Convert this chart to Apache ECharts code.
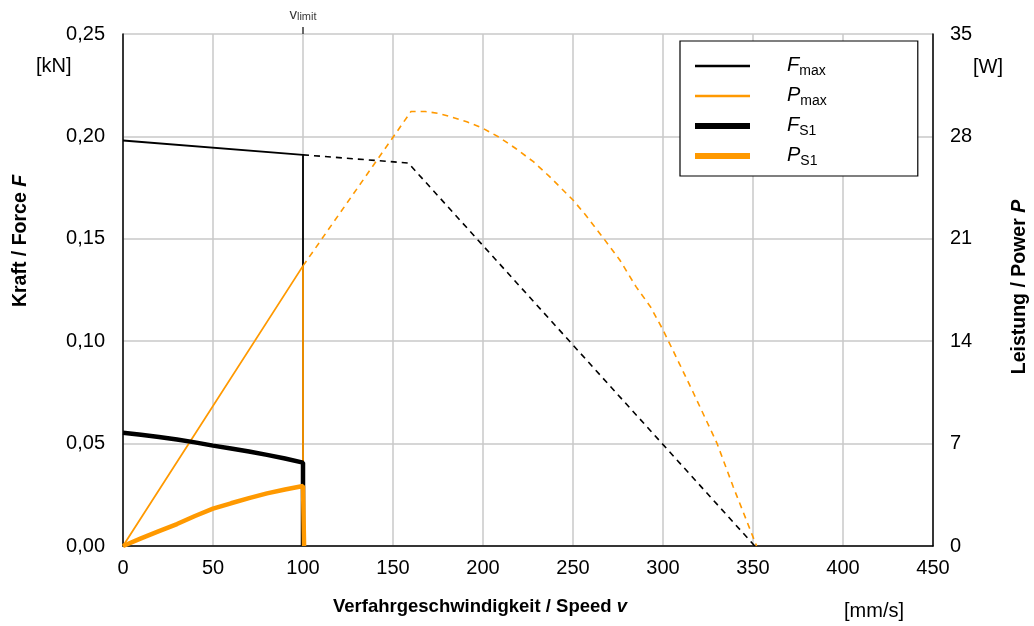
<!DOCTYPE html>
<html>
<head>
<meta charset="utf-8">
<script src="https://cdn.jsdelivr.net/npm/echarts@6/dist/echarts.min.js"></script>
<style>html,body{margin:0;padding:0;background:#fff}#c{width:1034px;height:626px}</style>
</head>
<body>
<div id="c"></div>
<script>
// ---- data (speed in mm/s, force in kN, power in W) ----
var xTicks = [0, 50, 100, 150, 200, 250, 300, 350, 400, 450];
var forceTickLabels = ['0,00', '0,05', '0,10', '0,15', '0,20', '0,25'];
var powerTickLabels = ['0', '7', '14', '21', '28', '35'];
var vLimit = 100;

var fMaxSolid = [[0, 0.198], [100, 0.191], [100, 0]];
var fMaxDashed = [[100, 0.191], [158.5, 0.187], [351, 0]];
var pMaxSolid = [[0, 0], [100, 19.15], [100, 0]];
var pMaxDashed = [[100, 19.15], [160, 29.7], [168, 29.7], [175, 29.58], [182, 29.35], [191, 29.0],
  [200, 28.55], [209, 27.94], [218, 27.19], [228, 26.27], [237, 25.25], [250, 23.65], [257, 22.63],
  [267, 21.03], [276, 19.55], [285, 17.73], [293, 16.36], [300, 14.77], [309, 12.49], [317, 10.44],
  [330, 7.02], [339, 4.05], [352, 0]];
var fS1 = [[0, 0.0553], [10, 0.0543], [20, 0.0532], [30, 0.052], [40, 0.0506], [50, 0.049],
  [60, 0.0476], [70, 0.0461], [80, 0.0445], [90, 0.0427], [100, 0.0407], [100, 0]];
var pS1 = [[0, 0], [10, 0.52], [20, 1.02], [30, 1.5], [40, 2.05], [50, 2.55], [60, 2.92],
  [70, 3.27], [80, 3.6], [90, 3.86], [100, 4.1], [100.6, 0]];

var ORANGE = '#FF9900';
var FONT = '"Liberation Sans", Arial, sans-serif';

var chart = echarts.init(document.getElementById('c'), null, {renderer: 'canvas'});

var legendRich = {
  i: {fontFamily: FONT, fontSize: 20, fontStyle: 'italic', color: '#000', lineHeight: 22, verticalAlign: 'top'},
  s: {fontFamily: FONT, fontSize: 14, color: '#000', lineHeight: 14, padding: [9, 0, 0, 0], verticalAlign: 'top'},
  s2: {fontFamily: FONT, fontSize: 14, color: '#000', lineHeight: 14, padding: [9, 0, 0, 0], verticalAlign: 'top'}
};
var legendText = {
  'Fmax': '{i|F}{s|max}',
  'Pmax': '{i|P}{s|max}',
  'FS1': '{i|F}{s2|S1}',
  'PS1': '{i|P}{s2|S1}'
};

function boldTitle(main, ital, size) {
  return {
    text: '{b|' + main + '}{bi|' + ital + '}', align: 'center', verticalAlign: 'middle',
    rich: {
      b: {fontSize: size, fontWeight: 'bold', fontFamily: FONT, color: '#000'},
      bi: {fontSize: size, fontWeight: 'bold', fontStyle: 'italic', fontFamily: FONT, color: '#000'}
    }
  };
}

var option = {
  animation: false,
  backgroundColor: '#fff',
  textStyle: {fontFamily: FONT},
  grid: {left: 123, right: 101, top: 34, bottom: 80, containLabel: false},
  legend: {
    data: [
      {name: 'Fmax', lineStyle: {width: 2.6}},
      {name: 'Pmax', lineStyle: {width: 2.6}},
      {name: 'FS1', lineStyle: {width: 6}},
      {name: 'PS1', lineStyle: {width: 6}}
    ],
    orient: 'vertical',
    left: 680,
    top: 41,
    padding: [14, 91, 8, 12],
    itemWidth: 55,
    itemHeight: 14,
    itemGap: 7,
    borderColor: '#000',
    borderWidth: 1.2,
    backgroundColor: '#fff',
    selectedMode: false,
    itemStyle: {opacity: 0},
    formatter: function (n) { return legendText[n]; },
    textStyle: {padding: [0, 0, 0, 32], rich: legendRich}
  },
  xAxis: {
    type: 'value', min: 0, max: 450, interval: 50,
    axisLine: {show: true, lineStyle: {color: '#000', width: 1.5}},
    axisTick: {show: false},
    axisLabel: {color: '#000', fontSize: 20, fontFamily: FONT, margin: 12,
      formatter: function (v) { return xTicks.indexOf(v) >= 0 ? String(v) : ''; }},
    splitLine: {show: true, lineStyle: {color: '#c8c8c8', width: 1.5}}
  },
  yAxis: [{
    type: 'value', min: 0, max: 0.25, interval: 0.05, position: 'left',
    axisLine: {show: true, onZero: false, lineStyle: {color: '#000', width: 1.5}},
    axisTick: {show: false},
    axisLabel: {color: '#000', fontSize: 20, fontFamily: FONT, margin: 18,
      formatter: function (v) { return forceTickLabels[Math.round(v / 0.05)]; }},
    splitLine: {show: true, lineStyle: {color: '#c8c8c8', width: 1.5}}
  }, {
    type: 'value', min: 0, max: 35, interval: 7, position: 'right',
    axisLine: {show: true, onZero: false, lineStyle: {color: '#000', width: 1.5}},
    axisTick: {show: false},
    axisLabel: {color: '#000', fontSize: 20, fontFamily: FONT, margin: 17,
      formatter: function (v) { return powerTickLabels[Math.round(v / 7)]; }},
    splitLine: {show: false}
  }],
  graphic: [
    {type: 'text', x: 36, y: 66, style: {text: '[kN]', fontSize: 20, fontFamily: FONT, fill: '#000', verticalAlign: 'middle'}},
    {type: 'text', x: 973, y: 67, style: {text: '[W]', fontSize: 20, fontFamily: FONT, fill: '#000', verticalAlign: 'middle'}},
    {type: 'text', x: 844, y: 611, style: {text: '[mm/s]', fontSize: 20, fontFamily: FONT, fill: '#000', verticalAlign: 'middle'}},
    {type: 'text', x: 480, y: 607, style: boldTitle('Verfahrgeschwindigkeit / Speed ', 'v', 18.5)},
    {type: 'text', x: 21, y: 241, rotation: Math.PI / 2, style: boldTitle('Kraft / Force ', 'F', 19.5)},
    {type: 'text', x: 1020, y: 287, rotation: Math.PI / 2, style: boldTitle('Leistung / Power ', 'P', 19.5)}
  ],
  series: [
    {name: 'Fmax', type: 'line', data: fMaxSolid, symbol: 'none', z: 3,
      lineStyle: {color: '#000', width: 1.8}, itemStyle: {color: '#000'}},
    {name: 'FmaxExt', type: 'line', data: fMaxDashed, symbol: 'none', z: 3,
      lineStyle: {color: '#000', width: 1.6, type: [6, 5]}, itemStyle: {color: '#000'}},
    {name: 'Pmax', type: 'line', yAxisIndex: 1, data: pMaxSolid, symbol: 'none', z: 4,
      lineStyle: {color: ORANGE, width: 1.8}, itemStyle: {color: ORANGE}},
    {name: 'PmaxExt', type: 'line', yAxisIndex: 1, data: pMaxDashed, symbol: 'none', z: 4,
      lineStyle: {color: ORANGE, width: 1.6, type: [6, 5]}, itemStyle: {color: ORANGE}},
    {name: 'FS1', type: 'line', data: fS1, symbol: 'none', z: 5,
      lineStyle: {color: '#000', width: 4.5}, itemStyle: {color: '#000'}},
    {name: 'PS1', type: 'line', yAxisIndex: 1, data: pS1, symbol: 'none', z: 6,
      lineStyle: {color: ORANGE, width: 4.5}, itemStyle: {color: ORANGE}},
    {name: 'vlimit', type: 'scatter', data: [[vLimit, 0.25]], clip: false, silent: true, z: 7,
      symbol: 'rect', symbolSize: [2, 7], symbolOffset: [0, -3.5], itemStyle: {color: '#444'},
      label: {show: true, position: 'top', distance: 5, formatter: '{v|v}{s|limit}',
        rich: {v: {fontSize: 15, fontFamily: FONT, color: '#000', verticalAlign: 'bottom'},
               s: {fontSize: 11, fontFamily: FONT, color: '#000', verticalAlign: 'bottom'}}}}
  ]
};
chart.setOption(option);
</script>
</body>
</html>
